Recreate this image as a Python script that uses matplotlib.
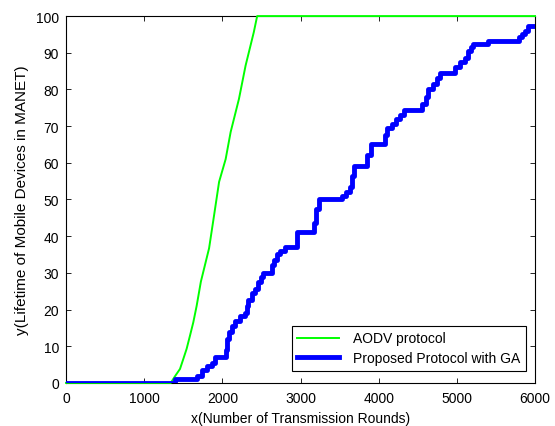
import matplotlib
matplotlib.use("Agg")
import matplotlib.pyplot as plt

plt.rcParams["font.family"] = ["Liberation Sans", "DejaVu Sans"]
plt.rcParams["font.size"] = 10

# AODV protocol
aodv_x = [0, 1340, 1364, 1400, 1458, 1500, 1543, 1586, 1628, 1671, 1725, 1830,
          1894, 1958, 2042, 2106, 2212, 2297, 2402, 2445, 6000]
aodv_y = [0, 0, 0.8, 2, 3.8, 6.5, 9.3, 12.9, 16.5, 21, 27.6, 36.7,
          45.7, 54.8, 61, 68.4, 77.4, 86.5, 95.6, 100, 100]

# Proposed protocol with GA (step levels)
ga_x = [0, 1394, 1680, 1735, 1799, 1863, 1905, 2045, 2065, 2090, 2119,
        2161, 2225, 2289, 2311, 2332, 2374, 2420, 2459, 2490, 2523,
        2630, 2660, 2694, 2740, 2800, 2960, 3170, 3200, 3230, 3530,
        3580, 3632, 3660, 3690, 3850, 3900, 4080, 4110, 4165, 4220,
        4271, 4330, 4560, 4600, 4633, 4700, 4740, 4780, 4980, 5038,
        5100, 5145, 5180, 5209, 5400, 5790, 5830, 5870, 5912, 6000]
ga_y = [0, 1, 2, 3.5, 4.5, 5.5, 7, 9, 12, 14, 15.5,
        17, 18.3, 19, 21, 22.5, 24.5, 25.6, 27.5, 29, 30,
        32, 33.5, 35, 36, 37, 41, 43.5, 47.5, 50, 51,
        52, 53.5, 56.5, 59, 62, 65, 67.5, 69.5, 70.5, 72,
        73, 74.5, 76, 78, 80, 81.5, 83, 84.5, 86, 87.5,
        88.5, 90.5, 91.5, 92.5, 93.3, 94.2, 95.1, 96, 97.2, 97.2]

fig = plt.figure(figsize=(5.55, 4.27), dpi=100)
ax = fig.add_axes([0.119, 0.101, 0.845, 0.859])

ax.plot(aodv_x, aodv_y, color="#00ff00", lw=1.4, label="AODV protocol",
        clip_on=False, zorder=3)
ax.plot(ga_x, ga_y, color="#0000ff", lw=3.5, drawstyle="steps-post",
        label="Proposed Protocol with GA", zorder=4)

ax.set_xlim(0, 6000)
ax.set_ylim(0, 100)
ax.set_xticks(range(0, 6001, 1000))
ax.set_yticks(range(0, 101, 10))
ax.tick_params(direction="in", length=3.5, width=0.6, top=True, right=True,
               labelsize=10)
ax.tick_params(axis="x", pad=6)
ax.tick_params(axis="y", pad=5)
for s in ax.spines.values():
    s.set_linewidth(0.8)

ax.set_xlabel("x(Number of Transmission Rounds)", fontsize=10, labelpad=4)
ax.set_ylabel("y(Lifetime of Mobile Devices in MANET)", fontsize=11, labelpad=5)

leg = ax.legend(loc="lower right", bbox_to_anchor=(0.980, 0.0335),
                borderaxespad=0, fancybox=False, framealpha=1,
                edgecolor="black", fontsize=10, handlelength=3.0,
                handletextpad=1.0, labelspacing=0.4, borderpad=0.4)
leg.get_frame().set_linewidth(0.8)

fig.savefig("out.png", dpi=100)
